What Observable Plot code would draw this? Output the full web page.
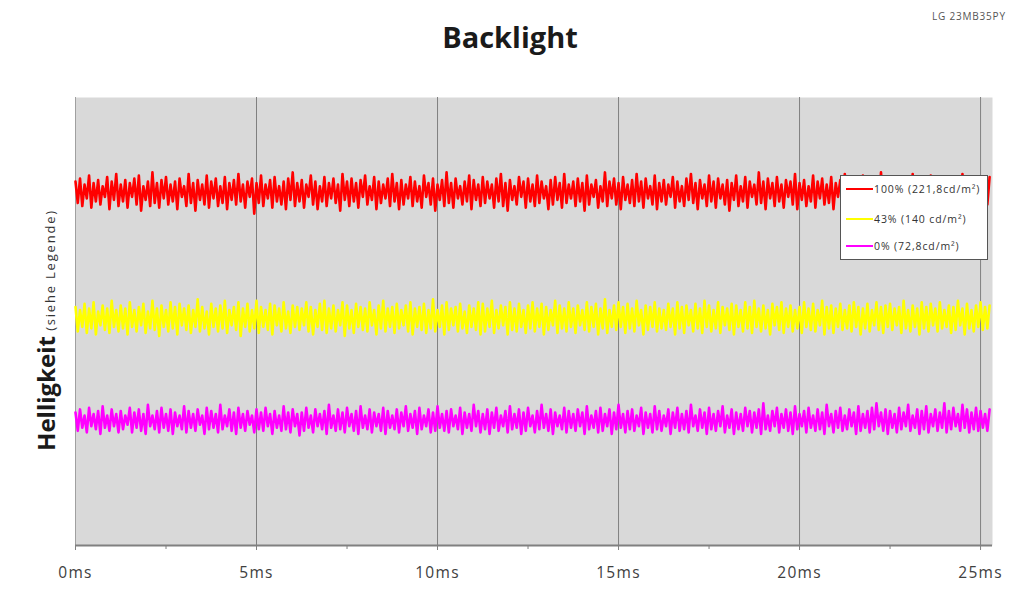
<!DOCTYPE html>
<html>
<head>
<meta charset="utf-8">
<script src="https://cdn.jsdelivr.net/npm/d3@7"></script>
<script src="https://cdn.jsdelivr.net/npm/@observablehq/plot@0.6"></script>
<style>
  body { margin: 0; background: #fff; font-family: "Open Sans", Lato, sans-serif; }
  #wrap { position: relative; width: 1009px; height: 603px; overflow: hidden; }
  #title { position: absolute; left: 0; width: 1020px; top: 17px; text-align: center; font-size: 29px; font-weight: bold; color: #1a1a1a; }
  #model { position: absolute; left: 932px; top: 9px; font-size: 10px; letter-spacing: 0.8px; color: #555; white-space: nowrap; }
  #ylab { position: absolute; left: 45px; top: 330px; transform: translate(-50%, -50%) rotate(-90deg); white-space: nowrap; color: #1a1a1a; }
  #ylab b { font-size: 24px; }
  #ylab span { font-size: 13px; letter-spacing: 1.8px; color: #333; }
  #legend { position: absolute; left: 840px; top: 175px; width: 148px; height: 85px; background: #fff; border: 1px solid #555; box-sizing: border-box; font-size: 10.5px; letter-spacing: 0.9px; color: #333; }
  .row { position: absolute; left: 5px; display: flex; align-items: center; white-space: nowrap; }
  .sw { width: 27px; height: 2px; margin-right: 1px; }
</style>
</head>
<body>
<div id="wrap">
  <div id="chart"></div>
  <div id="title"></div>
  <div id="model"></div>
  <div id="ylab"></div>
  <div id="legend"></div>
</div>
<script>
const titleText = "Backlight";
const modelText = "LG 23MB35PY";
const yLabelMain = "Helligkeit";
const yLabelSub = "(siehe Legende)";
const SAMPLE_MS = 0.0625;
const xTicks = [0, 5, 10, 15, 20, 25];
const xMinorTicks = [2.5, 7.5, 12.5, 17.5, 22.5];
const seriesNames = ["100% (221,8cd/m²)", "43% (140 cd/m²)", "0% (72,8cd/m²)"];
const seriesColors = ["#ff0000", "#ffff00", "#ff00ff"];

// 100% backlight (cd/m², sampled every 0.0625 ms)
const red = [
229,215,231,213,227,218,233,212,228,216,230,214,226,219,232,211,229,217,234,213,
227,216,230,212,228,219,231,214,233,210,226,217,229,213,235,215,228,212,230,218,
232,214,227,216,229,211,231,219,226,213,234,215,228,210,230,217,227,214,233,212,
229,218,231,213,226,215,232,211,228,217,230,214,234,216,227,212,229,219,231,208,
228,215,233,213,227,218,230,212,232,216,226,214,229,211,231,217,235,213,228,216,
230,212,227,219,233,214,229,211,226,216,232,213,228,218,231,215,227,210,234,217,
229,213,231,216,228,212,230,219,233,214,226,217,232,211,229,215,227,218,231,213,
234,216,228,211,230,214,227,218,232,213,229,216,226,212,233,219,228,214,231,210,
227,217,230,213,235,215,228,212,231,218,226,214,229,216,233,211,230,217,227,213,
232,215,229,218,227,212,231,216,234,213,228,210,230,217,226,214,232,219,229,212,
231,216,227,213,233,215,229,218,226,211,230,214,232,217,228,212,234,215,227,218,
229,213,231,216,228,210,233,214,227,219,230,212,226,216,235,213,229,218,231,214,
228,211,232,217,227,215,230,213,234,216,229,212,231,218,226,214,233,211,228,216,
230,214,227,219,232,212,229,216,226,213,231,217,234,215,228,211,230,218,227,213,
233,216,229,212,231,218,227,214,230,210,228,217,233,213,226,216,232,212,229,219,
227,214,235,215,229,211,231,218,228,213,232,216,227,212,230,219,229,214,234,211,
228,217,230,213,226,216,233,212,229,218,231,214,227,215,232,211,228,219,230,213,
234,215,227,212,231,217,229,214,233,211,226,218,230,216,228,213,235,212,229,217,
231,214,228,219,227,212,232,216,229,213,234,215,226,218,231,211,228,217,233,214,
229,212,231,216,227,219,230,213,232,215,228,211,234,217,229,214,227,216,231,213,
230,217,228,214,232
];
// 43% backlight
const yellow = [
147,131,145,134,149,130,146,133,150,129,144,135,148,132,146,130,151,134,145,131,
148,133,146,129,150,134,145,131,147,135,149,130,144,133,151,132,146,128,148,134,
145,131,150,133,147,129,149,135,146,132,148,130,145,134,152,131,147,133,144,129,
149,134,146,131,148,133,151,130,145,135,147,132,150,128,146,134,149,131,145,133,
151,130,147,134,145,132,149,129,148,135,146,131,150,133,144,130,148,134,147,132,
146,135,150,131,147,129,145,134,149,132,151,130,146,133,148,131,145,135,150,128,
148,133,145,130,149,134,147,132,146,131,150,135,145,129,148,133,151,131,146,134,
147,130,149,133,145,135,148,131,150,129,146,134,147,132,149,130,145,133,152,131,
145,134,148,129,150,132,146,135,147,131,149,133,144,130,148,134,146,132,150,129,
149,131,146,134,151,130,145,133,148,135,147,129,150,132,146,131,149,134,145,130,
148,133,150,131,146,134,149,129,147,132,145,135,151,130,148,133,146,131,150,134,
146,130,148,135,145,132,150,131,147,134,149,129,146,133,152,130,145,134,148,132,
150,134,147,130,149,133,146,131,151,135,145,129,148,132,147,134,150,131,146,133,
145,132,149,134,146,129,150,133,147,130,148,135,145,131,149,133,146,130,151,134,
148,131,145,133,150,130,147,135,146,132,149,129,148,134,145,131,150,133,147,130,
151,134,146,131,148,133,145,129,149,135,147,132,150,130,146,134,148,131,145,133,
147,130,150,134,146,132,149,131,145,135,151,129,147,133,148,130,146,134,149,132,
145,133,148,131,150,134,147,129,146,133,149,131,145,135,150,132,147,130,148,134,
149,132,146,135,147,130,151,133,145,131,148,134,146,129,150,133,147,131,149,135,
146,131,150,133,145,134,148,130,147,132,151,135,146,129,149,133,145,131,148,134,
150,132,147,133,148
];
// 0% backlight
const magenta = [
78,66,80,68,76,65,81,69,77,67,79,64,82,68,76,66,80,69,77,65,
79,67,76,70,81,65,78,68,80,66,77,64,83,69,76,67,79,65,81,68,
77,66,80,64,78,69,76,67,82,65,79,68,77,66,80,70,76,64,81,67,
79,68,77,65,83,67,76,69,80,66,78,64,81,68,77,66,79,70,76,65,
80,67,78,66,81,69,77,64,79,68,76,66,82,67,78,65,80,69,77,63,
78,66,81,68,76,65,80,69,77,67,79,64,83,68,76,66,80,67,78,65,
81,69,77,66,79,64,82,68,76,67,80,65,78,69,77,66,81,64,79,68,
76,67,80,65,78,69,82,66,77,68,79,64,81,67,76,69,80,65,78,66,
82,68,77,66,79,65,80,69,76,67,81,64,78,68,77,66,83,69,79,65,
77,67,80,64,78,68,81,66,76,69,79,65,82,67,77,68,80,64,78,66,
81,69,76,65,79,67,83,68,77,66,80,64,78,69,76,67,81,65,79,68,
77,66,80,69,78,64,82,67,76,68,79,65,81,66,77,69,80,64,78,67,
83,68,77,65,79,67,80,66,76,69,81,64,78,68,77,65,82,67,79,66,
76,69,80,64,78,68,81,66,77,67,79,65,83,69,76,66,80,68,78,64,
81,67,77,66,79,69,82,65,76,68,80,64,78,67,77,66,81,69,79,65,
78,68,80,64,84,67,76,66,79,69,81,65,77,68,80,66,78,64,82,67,
77,69,79,65,81,68,76,66,80,67,78,64,83,69,77,65,79,68,81,66,
76,67,80,69,78,64,82,66,77,68,79,65,81,67,84,69,78,66,80,64,
79,68,77,65,81,67,78,69,83,66,76,68,80,64,79,67,82,65,77,69,
80,66,78,68,84,65,79,67,81,69,77,66,83,68,80,65,78,67,81,66,
79,68,77,66,80
];

const toRows = vals => vals.map((v, i) => ({t: i * SAMPLE_MS, v}));
const allSeries = [red, yellow, magenta];

const plot = Plot.plot({
  width: 1009,
  height: 603,
  marginLeft: 75,
  marginRight: 17,
  marginTop: 97,
  marginBottom: 58,
  style: {fontFamily: "'Open Sans', Lato, sans-serif", fontSize: "15.5px", letterSpacing: "1.3px", color: "#404040", background: "transparent"},
  x: {domain: [0, 25.33], label: null},
  y: {domain: [-9, 284], axis: null},
  marks: [
    Plot.frame({fill: "#d9d9d9", stroke: null}),
    Plot.gridX(xTicks.slice(1), {stroke: "#808080", strokeOpacity: 1, strokeWidth: 1}),
    Plot.ruleX([0], {stroke: "#a0a0a0"}),
    ...allSeries.map((s, i) => Plot.line(toRows(s), {x: "t", y: "v", stroke: seriesColors[i], strokeWidth: 2.6, strokeLinejoin: "round"})),
    Plot.ruleY([-9], {stroke: "#808080", strokeWidth: 2}),
    Plot.axisX(xMinorTicks, {tickSize: 4, text: null, stroke: "#808080", label: null}),
    Plot.axisX(xTicks, {tickSize: 5, tickPadding: 16, tickFormat: d => d + "ms", stroke: "#808080", label: null, fill: "#404040"})
  ]
});
document.getElementById("chart").appendChild(plot);

document.getElementById("title").textContent = titleText;
document.getElementById("model").textContent = modelText;
const yl = document.getElementById("ylab");
const b = document.createElement("b"); b.textContent = yLabelMain;
const sp = document.createElement("span"); sp.textContent = " " + yLabelSub;
yl.appendChild(b); yl.appendChild(sp);

const legend = document.getElementById("legend");
const rowTops = [6, 36, 63];
seriesNames.forEach((n, i) => {
  const r = document.createElement("div");
  r.className = "row";
  r.style.top = rowTops[i] + "px";
  const sw = document.createElement("div");
  sw.className = "sw";
  sw.style.background = seriesColors[i];
  const tx = document.createElement("span");
  tx.textContent = n;
  r.appendChild(sw); r.appendChild(tx);
  legend.appendChild(r);
});
</script>
</body>
</html>
